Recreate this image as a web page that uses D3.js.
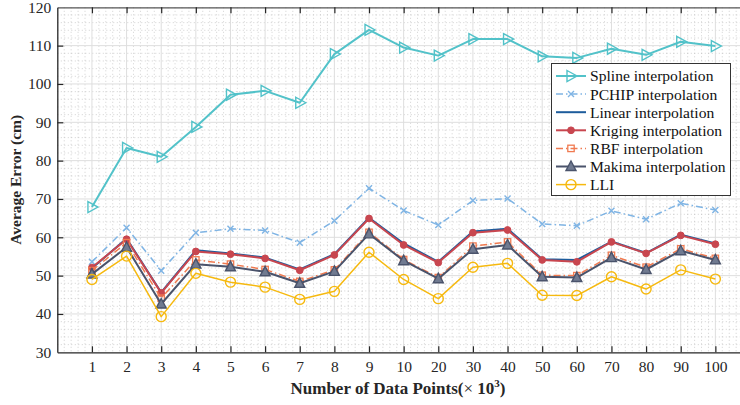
<!DOCTYPE html>
<html>
<head>
<meta charset="utf-8">
<script src="https://cdn.jsdelivr.net/npm/d3@7"></script>
<style>
  html, body { margin: 0; padding: 0; background: #fff; }
  svg { display: block; font-family: "Liberation Serif", "Times New Roman", serif; }
</style>
</head>
<body>
<div id="chart"></div>
<script>
// Average error vs. number of data points, one line per interpolation method.

const categories = ['1', '2', '3', '4', '5', '6', '7', '8', '9', '10', '20', '30', '40', '50', '60', '70', '80', '90', '100'];

const spline  = [67.9, 83.3, 81.0, 88.8, 97.2, 98.2, 95.1, 107.8, 114.1, 109.5, 107.4, 111.7, 111.7, 107.2, 106.8, 109.2, 107.6, 111.0, 109.9];
const pchip   = [53.6, 62.5, 51.3, 61.2, 62.2, 61.8, 58.6, 64.3, 72.8, 67.0, 63.2, 69.6, 70.1, 63.5, 63.0, 66.9, 64.7, 68.9, 67.1];
const linear  = [51.9, 59.7, 45.6, 56.6, 55.8, 54.7, 51.6, 55.6, 65.1, 58.4, 53.6, 61.5, 62.2, 54.3, 54.1, 58.9, 55.9, 60.7, 58.4];
const kriging = [52.1, 59.5, 45.5, 56.3, 55.6, 54.5, 51.4, 55.4, 64.9, 58.0, 53.4, 61.2, 61.9, 54.1, 53.6, 58.8, 55.8, 60.5, 58.2];
const rbf     = [51.3, 58.6, 44.1, 54.1, 53.0, 51.6, 48.5, 51.5, 61.3, 54.2, 49.5, 57.7, 58.8, 50.1, 50.0, 55.3, 52.2, 57.0, 54.5];
const makima  = [50.4, 57.4, 42.6, 53.0, 52.3, 51.0, 48.0, 51.1, 60.9, 53.9, 49.2, 56.9, 58.0, 49.7, 49.5, 54.7, 51.6, 56.5, 54.1];
const lli     = [49.0, 55.1, 39.3, 50.6, 48.3, 47.0, 43.8, 45.9, 56.1, 49.0, 44.0, 52.2, 53.2, 44.9, 44.8, 49.7, 46.5, 51.5, 49.1];

const yTicks = [30, 40, 50, 60, 70, 80, 90, 100, 110, 120];

const series = [
  { name: 'Spline interpolation',  values: spline,  color: '#52c2c9', dash: null,          width: 2,   marker: 'triR'   },
  { name: 'PCHIP interpolation',   values: pchip,   color: '#7fb4e4', dash: '7,3,1.5,3',   width: 1.5, marker: 'cross'  },
  { name: 'Linear interpolation',  values: linear,  color: '#1d5c9c', dash: null,          width: 2,   marker: 'none'   },
  { name: 'Kriging interpolation', values: kriging, color: '#c8464f', dash: null,          width: 2,   marker: 'dot'    },
  { name: 'RBF interpolation',     values: rbf,     color: '#f07a50', dash: '7,3,1.5,3',   width: 1.5, marker: 'square' },
  { name: 'Makima interpolation',  values: makima,  color: '#4a536b', dash: null,          width: 2,   marker: 'triU'   },
  { name: 'LLI',                   values: lli,     color: '#f6b90f', dash: null,          width: 1.5, marker: 'ring'   },
];

const FONT = '"Liberation Serif", "Times New Roman", serif';
const W = 740, H = 405;
const margin = { top: 7.3, left: 57.3, bottom: 405 - 352.3 };
const plotW = 692.7;                 // axis runs off the right edge of the frame
const plotH = H - margin.top - margin.bottom;

const svg = d3.select('#chart').append('svg')
  .attr('width', W).attr('height', H)
  .style('overflow', 'hidden');

const g = svg.append('g').attr('transform', `translate(${margin.left},${margin.top})`);

const x = d3.scaleLinear().domain([0, 20]).range([0, plotW]);
const y = d3.scaleLinear().domain([30, 120]).range([plotH, 0]);
const idx = d3.range(1, categories.length + 1);

// minor grid (dotted)
const gGrid = g.append('g');
gGrid.selectAll('line.minor-x')
  .data(d3.range(0, 20.001, 0.2).filter(v => Math.abs(v - Math.round(v)) > 1e-6))
  .join('line')
  .attr('x1', d => x(d)).attr('x2', d => x(d))
  .attr('y1', 0).attr('y2', plotH)
  .attr('stroke', '#b4b4b4').attr('stroke-width', 0.6).attr('stroke-dasharray', '1,2.5');
gGrid.selectAll('line.minor-y')
  .data(d3.range(30, 120.001, 2).filter(v => v % 10 !== 0))
  .join('line')
  .attr('x1', 0).attr('x2', plotW)
  .attr('y1', d => y(d)).attr('y2', d => y(d))
  .attr('stroke', '#b4b4b4').attr('stroke-width', 0.6).attr('stroke-dasharray', '1,2.5');

// major grid
gGrid.append('g').selectAll('line')
  .data(idx).join('line')
  .attr('x1', d => x(d)).attr('x2', d => x(d))
  .attr('y1', 0).attr('y2', plotH)
  .attr('stroke', '#dedede').attr('stroke-width', 1);
gGrid.append('g').selectAll('line')
  .data(yTicks.slice(1, -1)).join('line')
  .attr('x1', 0).attr('x2', plotW)
  .attr('y1', d => y(d)).attr('y2', d => y(d))
  .attr('stroke', '#dedede').attr('stroke-width', 1);

// axes, ticks pointing inward
const axisColor = '#262626';
const xAxis = g.append('g').attr('transform', `translate(0,${plotH})`)
  .call(d3.axisBottom(x).tickValues(idx).tickFormat(i => categories[i - 1])
    .tickSizeInner(-6).tickSizeOuter(0).tickPadding(9));
const xTop = g.append('g')
  .call(d3.axisTop(x).tickValues(idx).tickFormat('').tickSizeInner(-6).tickSizeOuter(0));
const yAxis = g.append('g')
  .call(d3.axisLeft(y).tickValues(yTicks).tickSizeInner(-6).tickSizeOuter(0).tickPadding(6));

[xAxis, xTop, yAxis].forEach(a => {
  a.attr('font-family', FONT);
  a.select('.domain').attr('stroke', axisColor).attr('stroke-width', 1.3);
  a.selectAll('.tick line').attr('stroke', axisColor).attr('stroke-width', 1.2);
  a.selectAll('.tick text').attr('fill', axisColor).style('font-size', '15.5px')
    .style('font-family', FONT);
});
yAxis.selectAll('.tick').filter(d => d === 30 || d === 120).select('line').remove();
xTop.select('.domain').attr('stroke', '#555');

// markers
function drawMarker(sel, type, color) {
  if (type === 'triR') {
    sel.append('path').attr('d', 'M-4,-5.5 L6,0 L-4,5.5 Z')
      .attr('fill', 'none').attr('stroke', color).attr('stroke-width', 1.4);
  } else if (type === 'cross') {
    sel.append('path').attr('d', 'M-3,-3 L3,3 M-3,3 L3,-3')
      .attr('stroke', color).attr('stroke-width', 1.4);
  } else if (type === 'dot') {
    sel.append('circle').attr('r', 3.4).attr('fill', color).attr('stroke', color);
  } else if (type === 'square') {
    sel.append('rect').attr('x', -3.2).attr('y', -3.2).attr('width', 6.4).attr('height', 6.4)
      .attr('fill', 'none').attr('stroke', color).attr('stroke-width', 1.3);
  } else if (type === 'triU') {
    sel.append('path').attr('d', 'M0,-5.5 L5,4 L-5,4 Z')
      .attr('fill', '#707a90').attr('stroke', color).attr('stroke-width', 1.4);
  } else if (type === 'ring') {
    sel.append('circle').attr('r', 5)
      .attr('fill', 'none').attr('stroke', color).attr('stroke-width', 1.4);
  }
}

const line = d3.line().x((d, i) => x(i + 1)).y(d => y(d));

series.forEach(s => {
  const gs = g.append('g');
  gs.append('path').datum(s.values)
    .attr('d', line)
    .attr('fill', 'none')
    .attr('stroke', s.color)
    .attr('stroke-width', s.width)
    .attr('stroke-linejoin', 'round')
    .attr('stroke-dasharray', s.dash);
  gs.selectAll('g.mk').data(s.values).join('g')
    .attr('transform', (d, i) => `translate(${x(i + 1)},${y(d)})`)
    .each(function () { drawMarker(d3.select(this), s.marker, s.color); });
});

// legend
const leg = svg.append('g').attr('transform', 'translate(551.5,63.5)');
leg.append('rect').attr('width', 179).attr('height', 132)
  .attr('fill', '#fff').attr('stroke', '#333').attr('stroke-width', 1);
series.forEach((s, i) => {
  const cy = 12.5 + i * 18.1;
  const row = leg.append('g').attr('transform', `translate(0,${cy})`);
  row.append('line').attr('x1', 4.5).attr('x2', 34.5).attr('y1', 0).attr('y2', 0)
    .attr('stroke', s.color).attr('stroke-width', s.width).attr('stroke-dasharray', s.dash);
  const m = row.append('g').attr('transform', 'translate(19.5,0)');
  drawMarker(m, s.marker, s.color);
  row.append('text').attr('x', 38.5).attr('y', 0).attr('dy', '0.35em')
    .attr('fill', '#111').style('font-family', FONT).style('font-size', '15.6px').text(s.name);
});

// axis titles
svg.append('text')
  .attr('transform', `translate(21,${margin.top + plotH / 2}) rotate(-90)`)
  .attr('text-anchor', 'middle')
  .attr('fill', axisColor)
  .style('font-family', FONT)
  .style('font-size', '15.5px').style('font-weight', 'bold')
  .text('Average Error (cm)');

const xt = svg.append('text')
  .attr('x', 398).attr('y', 394)
  .attr('text-anchor', 'middle')
  .attr('fill', axisColor)
  .style('font-family', FONT)
  .style('font-size', '17px').style('font-weight', 'bold');
xt.append('tspan').text('Number of Data Points(');
xt.append('tspan').style('font-weight', 'normal').text('× ');
xt.append('tspan').text('10');
xt.append('tspan').attr('dy', -7).style('font-size', '11px').text('3');
xt.append('tspan').attr('dy', 7).text(')');
</script>
</body>
</html>
